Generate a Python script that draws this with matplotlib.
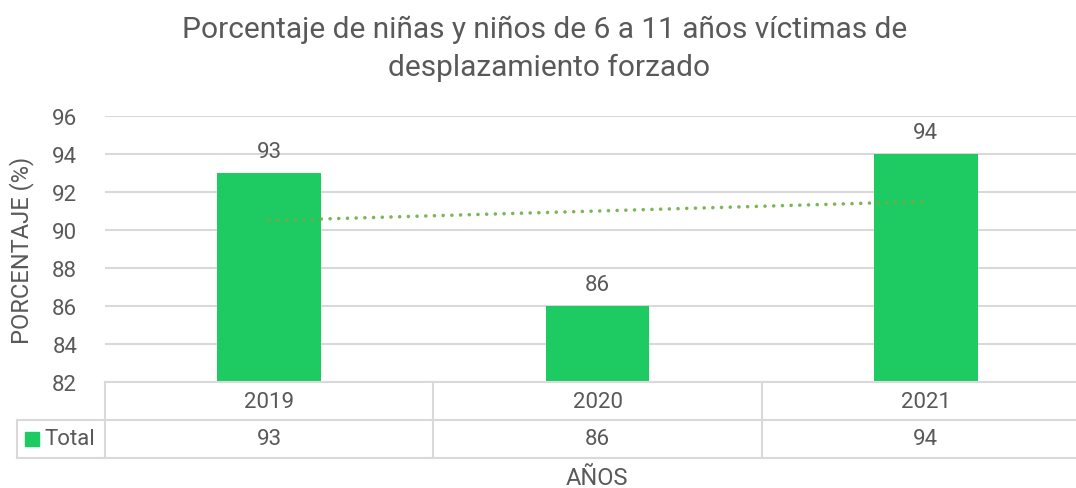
import matplotlib
matplotlib.use("Agg")
import matplotlib.pyplot as plt
import matplotlib.transforms as mtransforms
from matplotlib.patches import Rectangle
import numpy as np

years = ["2019", "2020", "2021"]
values = [93, 86, 94]
series_name = "Total"
title = "Porcentaje de niñas y niños de 6 a 11 años víctimas de\ndesplazamiento forzado"
ylabel = "PORCENTAJE (%)"
xlabel = "AÑOS"
yticks = [82, 84, 86, 88, 90, 92, 94, 96]

plt.rcParams['font.family'] = ['Roboto', 'DejaVu Sans']
TXT = '#595959'
GRID = '#D9D9D9'
BAR = '#1ECA62'
TREND = '#70AD47'

W, H = 1076, 489
fig = plt.figure(figsize=(W / 100, H / 100), dpi=100)

def fx(px):
    return px / W

def fy(py):
    return 1 - py / H

ax_left, ax_right, ax_top, ax_bot = 105, 1090, 117, 383
ax = fig.add_axes([fx(ax_left), fy(ax_bot), fx(ax_right - ax_left), fy(ax_top) - fy(ax_bot)])

x = np.arange(len(years))
ax.bar(x, values, width=0.315, color=BAR, zorder=2)
for xi, v in zip(x, values):
    ax.annotate(str(v), (xi, v), xytext=(0, 8), textcoords='offset points',
                ha='center', va='bottom', fontsize=16, color=TXT)

# linear trendline
coef = np.polyfit(x, values, 1)
ax.plot(x, np.polyval(coef, x), color=TREND, linestyle=(0, (0.01, 2.4)), linewidth=2.6,
        dash_capstyle='round', alpha=0.9, zorder=3)

ax.set_xlim(-0.5, 2.5)
ax.set_ylim(82, 96)
ax.set_yticks(yticks)
ax.tick_params(axis='y', length=0, labelsize=16, labelcolor=TXT, pad=20)
ax.set_xticks([])
ax.grid(axis='y', color=GRID, linewidth=1.5, zorder=0)
for s in ax.spines.values():
    s.set_visible(False)

fig.text(fx(22), fy(250), ylabel, rotation=90, ha='center', va='center', fontsize=17, color=TXT)
fig.text(fx(545), fy(30), title.split('\n')[0], ha='center', va='center', fontsize=21.5, color=TXT)
fig.text(fx(549), fy(68), title.split('\n')[1], ha='center', va='center', fontsize=21.5, color=TXT)

# data table drawn below the axes
trans = mtransforms.blended_transform_factory(ax.transData, fig.transFigure)
row1_top, row1_bot, row2_bot = 383, 421, 459
lw = 1.5
for xb in [-0.5, 0.5, 1.5, 2.5]:
    ax.plot([xb, xb], [fy(row1_top), fy(row2_bot)], transform=trans, color=GRID,
            linewidth=lw, clip_on=False)
ax.plot([-0.5, 2.5], [fy(row1_top), fy(row1_top)], transform=trans, color=GRID,
        linewidth=lw, clip_on=False)
for yb in [row1_bot, row2_bot]:
    fig.add_artist(plt.Line2D([fx(17), fx(1090)], [fy(yb), fy(yb)], color=GRID, linewidth=lw))
fig.add_artist(plt.Line2D([fx(17), fx(17)], [fy(row1_bot), fy(row2_bot)], color=GRID, linewidth=lw))

for xi, yr, v in zip(x, years, values):
    ax.text(xi, fy((row1_top + row1_bot) / 2), yr, transform=trans, ha='center', va='center',
            fontsize=16, color=TXT)
    ax.text(xi, fy((row1_bot + row2_bot) / 2), str(v), transform=trans, ha='center', va='center',
            fontsize=16, color=TXT)

fig.add_artist(Rectangle((fx(25), fy(447)), fx(14), fy(433) - fy(447), color=BAR,
                         transform=fig.transFigure))
fig.text(fx(44), fy(440), series_name, ha='left', va='center', fontsize=16, color=TXT)

fig.text(fx(597), fy(479), xlabel, ha='center', va='center', fontsize=17, color=TXT)

fig.savefig('out.png', dpi=100)
